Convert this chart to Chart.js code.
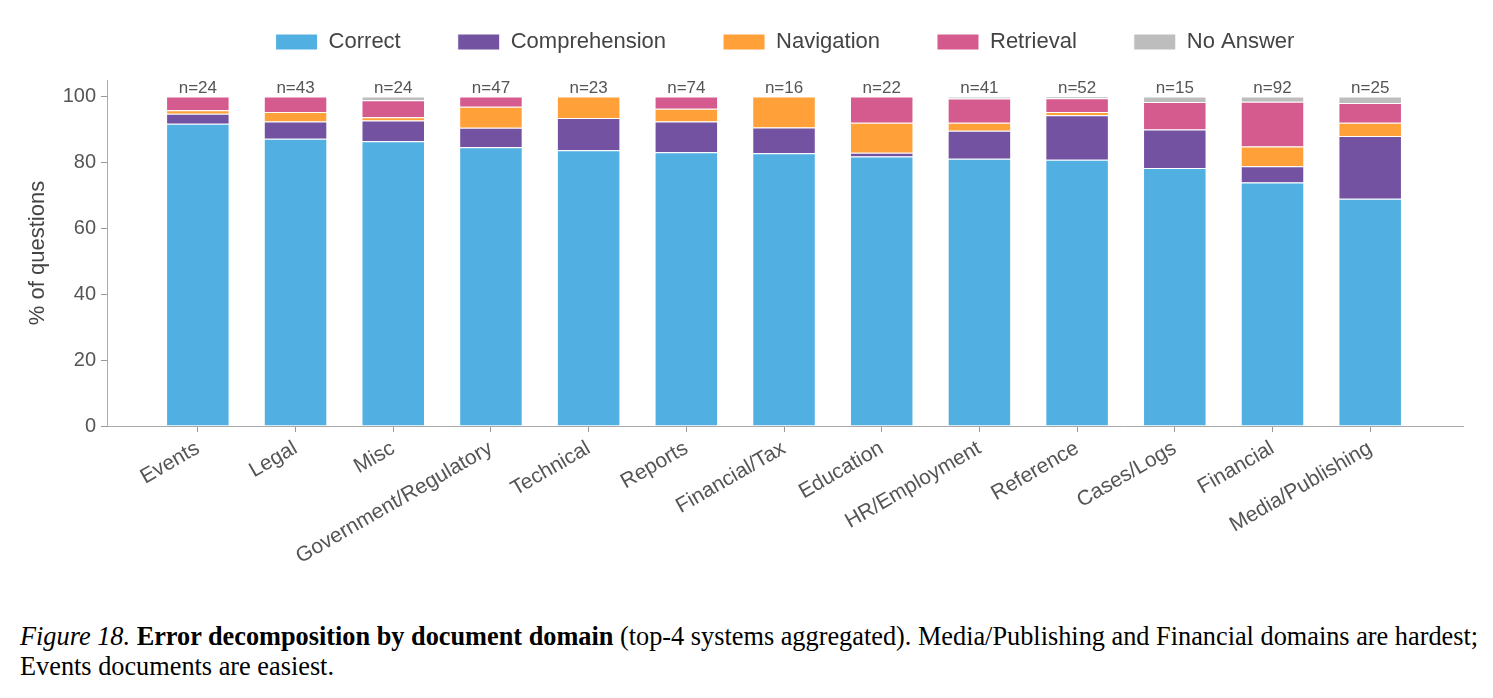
<!DOCTYPE html>
<html>
<head>
<meta charset="utf-8">
<script src="https://cdn.jsdelivr.net/npm/chart.js@4"></script>
<style>
  body { margin: 0; background: #fff; }
  #wrap { position: relative; width: 1493px; height: 698px; }
  #errChart { position: absolute; left: 0; top: 0; }
  .caption {
    position: absolute; left: 20px; top: 622px;
    font-family: "Liberation Serif", "DejaVu Serif", serif;
    font-size: 26.3px; line-height: 30px; color: #000; white-space: nowrap;
  }
</style>
</head>
<body>
<div id="wrap">
  <canvas id="errChart" width="1493" height="600"></canvas>
  <div class="caption"><i>Figure 18.</i> <b>Error decomposition by document domain</b> (top-4 systems aggregated). Media/Publishing and Financial domains are hardest;<br>Events documents are easiest.</div>
</div>
<script>
const categories = ["Events", "Legal", "Misc", "Government/Regulatory", "Technical", "Reports",
  "Financial/Tax", "Education", "HR/Employment", "Reference", "Cases/Logs", "Financial", "Media/Publishing"];
const counts = [24, 43, 24, 47, 23, 74, 16, 22, 41, 52, 15, 92, 25];

// % of questions per outcome
const correct       = [91.7, 87.2, 86.4, 84.6, 83.7, 83.1, 82.8, 81.8, 81.1, 80.8, 78.3, 73.9, 69.0];
const comprehension = [3.1, 5.2, 6.3, 5.9, 9.8, 9.3, 7.8, 1.1, 8.5, 13.5, 11.7, 4.9, 19.0];
const navigation    = [1.0, 2.9, 1.0, 6.4, 6.5, 3.9, 9.4, 9.1, 2.4, 1.0, 0, 6.0, 4.0];
const retrieval     = [4.2, 4.7, 5.2, 3.1, 0, 3.7, 0, 8.0, 7.4, 4.2, 8.3, 13.6, 6.0];
const noAnswer      = [0, 0, 1.1, 0, 0, 0, 0, 0, 0.6, 0.5, 1.7, 1.6, 2.0];

const yTicks = [0, 20, 40, 60, 80, 100];

const toPoints = arr => arr.map((v, i) => ({ x: i, y: v }));

const series = [
  { label: "Correct", data: correct, color: "#52AFE2" },
  { label: "Comprehension", data: comprehension, color: "#7352A2" },
  { label: "Navigation", data: navigation, color: "#FFA038" },
  { label: "Retrieval", data: retrieval, color: "#D55A8D" },
  { label: "No Answer", data: noAnswer, color: "#BDBDBD" },
];

const font = '"Liberation Sans", Arial, Helvetica, sans-serif';

// n=.. labels above each bar
const countLabels = {
  id: "countLabels",
  afterDatasetsDraw(chart) {
    const { ctx, scales: { x, y } } = chart;
    ctx.save();
    ctx.font = "17px " + font;
    ctx.fillStyle = "#555";
    ctx.textAlign = "center";
    ctx.textBaseline = "alphabetic";
    counts.forEach((n, i) => {
      ctx.fillText("n=" + n, x.getPixelForValue(i), y.getPixelForValue(100) - 4);
    });
    ctx.restore();
  },
};

new Chart(document.getElementById("errChart").getContext("2d"), {
  type: "bar",
  data: {
    datasets: series.map(s => ({
      label: s.label,
      data: toPoints(s.data),
      backgroundColor: s.color,
      borderColor: "#ffffff",
      borderWidth: 1,
      barPercentage: 0.65,
      categoryPercentage: 1.0,
    })),
  },
  options: {
    responsive: false,
    animation: false,
    devicePixelRatio: 1,
    layout: { padding: { left: 25, right: 30, top: -26, bottom: 0 } },
    plugins: {
      legend: {
        position: "top",
        fullSize: false,
        labels: {
          boxWidth: 42,
          boxHeight: 16,
          padding: 57,
          color: "#444",
          font: { family: font, size: 22 },
        },
      },
      // empty title used as spacer between legend and plot
      title: { display: true, text: "", weight: 500, padding: 0, font: { size: 14.2 } },
      tooltip: { enabled: false },
    },
    scales: {
      x: {
        type: "linear",
        stacked: true,
        offset: false,
        min: -0.93,
        max: 12.95,
        afterBuildTicks: scale => {
          scale.ticks = categories.map((_, i) => ({ value: i }));
        },
        afterFit: scale => { scale.height = 174; },
        ticks: {
          autoSkip: false,
          minRotation: 30,
          maxRotation: 30,
          padding: 4,
          color: "#555",
          font: { family: font, size: 21 },
          callback: v => categories[v],
        },
        grid: { display: true, offset: false, drawOnChartArea: false, drawTicks: true, tickLength: 6, color: "#999" },
        border: { display: true, color: "#aaa" },
      },
      y: {
        stacked: true,
        min: 0,
        max: 105,
        afterBuildTicks: scale => {
          scale.ticks = yTicks.map(v => ({ value: v }));
        },
        afterFit: scale => { scale.width = 82; },
        ticks: { color: "#555", font: { family: font, size: 20 }, padding: 5 },
        grid: { display: true, drawOnChartArea: false, drawTicks: true, tickLength: 6, color: "#999" },
        border: { display: true, color: "#aaa" },
        title: {
          display: true,
          text: "% of questions",
          color: "#444",
          font: { family: font, size: 22 },
          padding: 0,
        },
      },
    },
  },
  plugins: [countLabels],
});
</script>
</body>
</html>
